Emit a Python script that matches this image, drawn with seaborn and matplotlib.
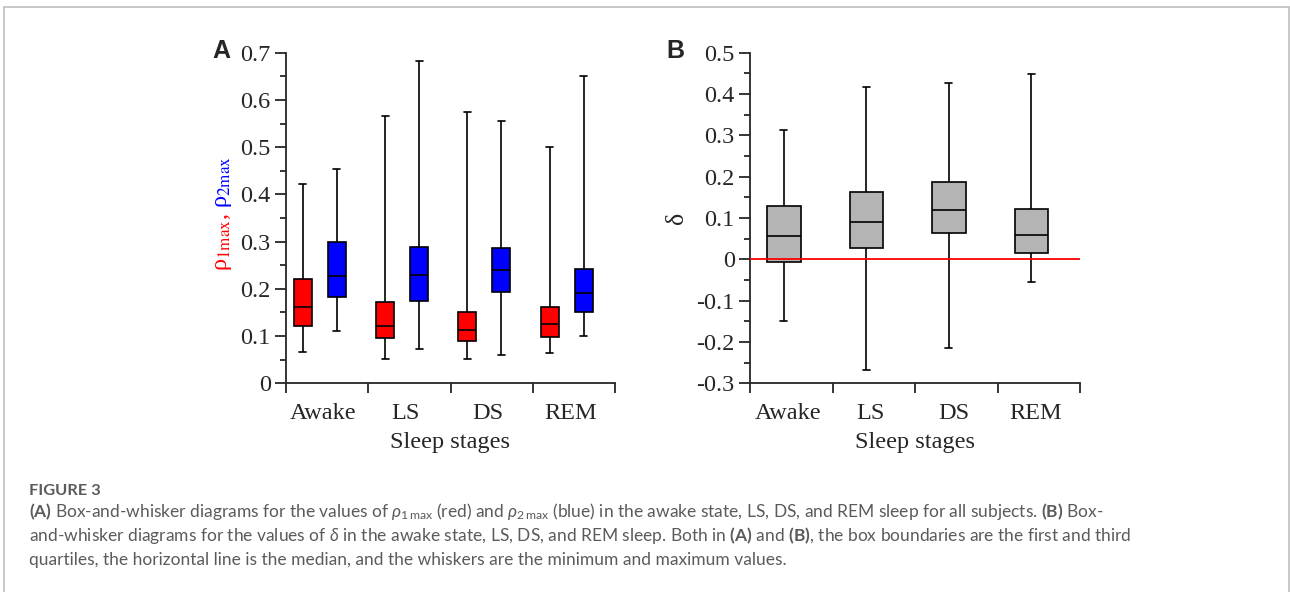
import numpy as np
import pandas as pd
import matplotlib
matplotlib.use("Agg")
import matplotlib.pyplot as plt
import seaborn as sns
from matplotlib.lines import Line2D

# ---------------- data ----------------
stages = ["Awake", "LS", "DS", "REM"]
series_names = ["rho1", "rho2"]
# five-number summaries per stage: [min, Q1, median, Q3, max]
rho1_summary = [
    [0.067, 0.121, 0.162, 0.220, 0.423],
    [0.052, 0.095, 0.121, 0.173, 0.565],
    [0.051, 0.090, 0.113, 0.151, 0.575],
    [0.065, 0.099, 0.125, 0.162, 0.501],
]
rho2_summary = [
    [0.110, 0.183, 0.227, 0.299, 0.453],
    [0.073, 0.174, 0.229, 0.289, 0.682],
    [0.059, 0.194, 0.240, 0.287, 0.556],
    [0.101, 0.152, 0.191, 0.243, 0.651],
]
delta_summary = [
    [-0.149, -0.007, 0.057, 0.130, 0.313],
    [-0.268, 0.027, 0.090, 0.164, 0.416],
    [-0.215, 0.064, 0.120, 0.186, 0.427],
    [-0.054, 0.016, 0.060, 0.122, 0.449],
]
yticks_a = [0, 0.1, 0.2, 0.3, 0.4, 0.5, 0.6, 0.7]
ytick_labels_a = ["0", "0.1", "0.2", "0.3", "0.4", "0.5", "0.6", "0.7"]
yticks_b = [-0.3, -0.2, -0.1, 0, 0.1, 0.2, 0.3, 0.4, 0.5]
ytick_labels_b = ["-0.3", "-0.2", "-0.1", "0", "0.1", "0.2", "0.3", "0.4", "0.5"]

caption_title = "FIGURE 3"
caption_lines = [
    r"$\mathbf{(A)}$ Box-and-whisker diagrams for the values of $\rho_{1\,\mathrm{max}}$ (red) and "
    r"$\rho_{2\,\mathrm{max}}$ (blue) in the awake state, LS, DS, and REM sleep for all subjects. $\mathbf{(B)}$ Box-",
    r"and-whisker diagrams for the values of $\delta$ in the awake state, LS, DS, and REM sleep. Both in "
    r"$\mathbf{(A)}$ and $\mathbf{(B)}$, the box boundaries are the first and third",
    "quartiles, the horizontal line is the median, and the whiskers are the minimum and maximum values.",
]

# ---------------- tables ----------------
df_a = pd.DataFrame(
    [(st, nm, v)
     for nm, summ in zip(series_names, [rho1_summary, rho2_summary])
     for st, vals in zip(stages, summ)
     for v in vals],
    columns=["stage", "series", "value"],
)
df_b = pd.DataFrame(
    [(st, v) for st, vals in zip(stages, delta_summary) for v in vals],
    columns=["stage", "value"],
)

# ---------------- style ----------------
sns.set_theme(style="ticks")
plt.rcParams["font.family"] = ["Liberation Serif", "DejaVu Serif"]
plt.rcParams["mathtext.fontset"] = "stix"
plt.rcParams["mathtext.rm"] = "Lato"
plt.rcParams["mathtext.it"] = "Lato:italic"
plt.rcParams["mathtext.bf"] = "Lato:bold"
plt.rcParams["mathtext.fallback"] = "stixsans"
plt.rcParams["axes.linewidth"] = 1.3

W, H = 1290, 592
fig = plt.figure(figsize=(W / 100, H / 100), dpi=100)
fig.patch.set_facecolor("white")

axA = fig.add_axes([286 / W, 1 - 383.3 / H, 329 / W, 330.6 / H])
axB = fig.add_axes([750 / W, 1 - 383.3 / H, 330 / W, 330.6 / H])

box_kw = dict(whis=(0, 100), linecolor="black", linewidth=1.2, fliersize=0,
              saturation=1, capwidths=0.085)

sns.boxplot(data=df_a, x="stage", y="value", hue="series", order=stages,
            hue_order=series_names, palette={"rho1": "#ff0000", "rho2": "#0000ff"},
            width=0.826, gap=0.47, legend=False, ax=axA, **box_kw)
sns.boxplot(data=df_b, x="stage", y="value", order=stages, color="#b4b4b4",
            width=0.406, ax=axB, **box_kw)

axB.axhline(0, color="#ff0000", lw=1.3, zorder=10)

tick_fs = 17.5
for ax, x0, lab_off, yt, ytl, ylim in [
    (axA, -0.4115, 0.045, yticks_a, ytick_labels_a, (0, 0.7)),
    (axB, -0.41, 0.055, yticks_b, ytick_labels_b, (-0.3, 0.5)),
]:
    n = len(stages)
    ax.set_xlim(x0, x0 + n)
    ax.set_ylim(*ylim)
    ax.set_xticks([x0 + k for k in range(n + 1)])
    ax.set_xticklabels([""] * (n + 1))
    ax.set_xticks([k + lab_off for k in range(n)], minor=True)
    ax.set_xticklabels(stages, minor=True, fontsize=tick_fs)
    ax.set_yticks(yt)
    ax.set_yticklabels(ytl, fontsize=tick_fs)
    ax.set_yticks([(yt[i] + yt[i + 1]) / 2 for i in range(len(yt) - 1)], minor=True)
    ax.tick_params(axis="x", which="major", direction="out", length=7.5, width=1.3)
    ax.tick_params(axis="x", which="minor", length=0, pad=14)
    ax.tick_params(axis="y", which="major", direction="out", length=8, width=1.3, pad=3)
    ax.tick_params(axis="y", which="minor", direction="out", length=4.5, width=1.3)
    for s in ["top", "right"]:
        ax.spines[s].set_visible(False)
    ax.set_xlabel("Sleep stages", fontsize=tick_fs)
    ax.xaxis.set_label_coords(0.5, -0.148)
    ax.set_ylabel("")
    ax.set_facecolor("white")

# y-labels
axB.set_ylabel("δ", fontsize=tick_fs + 1)
axB.yaxis.set_label_coords(-0.188, 0.5)

yl_x = -0.178
axA.text(yl_x, 0.515, r"ρ$_{\mathrm{1max}}$,", color="#ff0000", fontsize=tick_fs,
         rotation=90, rotation_mode="anchor", ha="right", va="baseline",
         transform=axA.transAxes, math_fontfamily="stix")
axA.text(yl_x, 0.53, r"ρ$_{\mathrm{2max}}$", color="#0000ff", fontsize=tick_fs,
         rotation=90, rotation_mode="anchor", ha="left", va="baseline",
         transform=axA.transAxes, math_fontfamily="stix")

# panel letters
fig.text(221.5 / W, 1 - 51 / H, "A", ha="center", va="center", fontsize=18,
         fontweight="bold", family="Liberation Sans")
fig.text(675 / W, 1 - 51 / H, "B", ha="center", va="center", fontsize=18,
         fontweight="bold", family="Liberation Sans")

# caption
cap_col = "#5b5b5b"
fig.text(29 / W, 1 - 495 / H, caption_title, ha="left", va="baseline", fontsize=11.8,
         color=cap_col, family="Lato", fontweight="bold")
for i, line in enumerate(caption_lines):
    fig.text(29 / W, 1 - (517 + 24.2 * i) / H, line, ha="left", va="baseline",
             fontsize=12.55, color=cap_col, family="Lato", math_fontfamily="custom")

# outer frame
frame_col = "#bdbdbd"
for xs, ys in [([4, 4], [592, 7]), ([4, 1289], [7, 7]), ([1289, 1289], [7, 592])]:
    fig.add_artist(Line2D([x / W for x in xs], [1 - y / H for y in ys],
                          transform=fig.transFigure, color=frame_col, lw=1.2))

fig.savefig("out.png", dpi=100, facecolor="white")
